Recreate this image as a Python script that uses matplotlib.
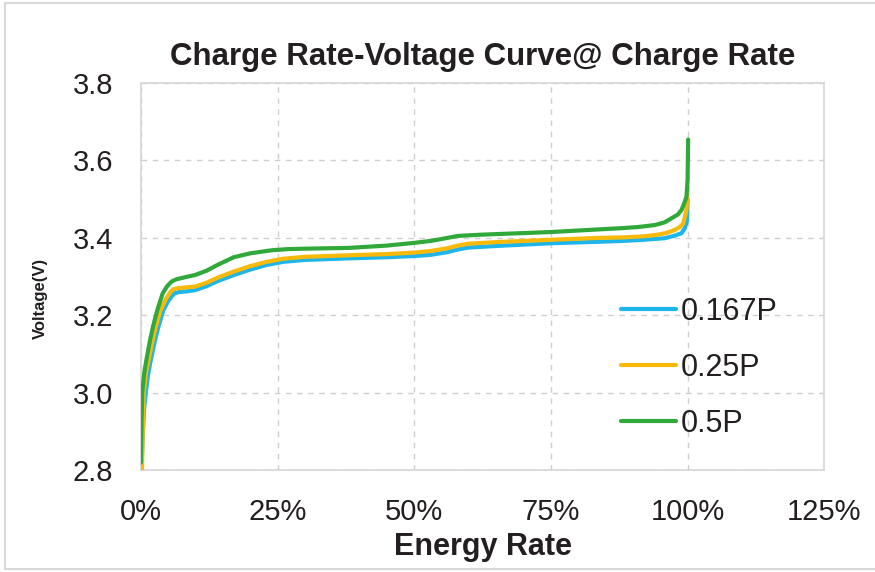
"""Charge rate voltage curves for three charge rates (0.167P, 0.25P, 0.5P)."""

import matplotlib

matplotlib.use("Agg")
import matplotlib.pyplot as plt
from matplotlib.lines import Line2D
from matplotlib.ticker import FuncFormatter

plt.rcParams["font.family"] = ["Liberation Sans", "DejaVu Sans"]

# energy rate (%) / voltage (V)
rate_0167_x = [0.1, 0.3, 0.6, 0.9, 1.3, 1.8, 2.5, 3.2, 4.1, 5.0, 5.7, 6.2, 7.0, 8.5, 9.9,
               12, 14, 17, 20, 23, 26, 30, 38, 45, 50, 53, 56, 58, 60, 65, 75, 84, 88,
               92, 95.8, 97.5, 98.9, 99.5, 99.9, 100]
rate_0167_v = [2.805, 2.88, 2.96, 3.00, 3.045, 3.084, 3.13, 3.17, 3.213, 3.237, 3.25, 3.257,
               3.26, 3.262, 3.265, 3.275, 3.288, 3.304, 3.318, 3.33, 3.338, 3.343, 3.347,
               3.35, 3.353, 3.356, 3.363, 3.37, 3.375, 3.379, 3.386, 3.39, 3.392, 3.395,
               3.399, 3.405, 3.412, 3.425, 3.445, 3.50]

rate_025_x = [0.2, 0.35, 0.55, 0.9, 1.4, 2.0, 2.7, 3.6, 4.5, 5.3, 5.9, 6.8, 8.3, 9.9,
              12, 14, 17, 20, 23, 26, 30, 38, 45, 50, 53, 56, 58, 60, 65, 75, 84, 88,
              92, 94, 96, 97.6, 98.6, 99.2, 99.8, 100]
rate_025_v = [2.80, 2.90, 3.00, 3.05, 3.084, 3.125, 3.17, 3.213, 3.24, 3.258, 3.267,
              3.27, 3.272, 3.274, 3.284, 3.297, 3.313, 3.327, 3.338, 3.346, 3.351, 3.355,
              3.358, 3.362, 3.366, 3.373, 3.38, 3.385, 3.389, 3.395, 3.40, 3.401, 3.404,
              3.407, 3.412, 3.42, 3.428, 3.437, 3.472, 3.53]

rate_05_x = [0, 0.1, 0.25, 0.6, 1.0, 1.6, 2.2, 3.0, 4.0, 4.8, 5.6, 6.5, 8.0, 9.9, 12,
             14, 17, 20, 24, 27, 30, 38, 45, 50, 53, 55, 58, 62, 75, 84, 88, 91, 94,
             95.8, 97, 98.2, 98.9, 99.4, 99.8, 100, 100.1]
rate_05_v = [2.82, 2.911, 3.00, 3.05, 3.084, 3.13, 3.17, 3.213, 3.257, 3.275, 3.287,
             3.293, 3.298, 3.304, 3.315, 3.33, 3.35, 3.36, 3.368, 3.371, 3.372, 3.374,
             3.38, 3.387, 3.392, 3.397, 3.405, 3.408, 3.415, 3.422, 3.425, 3.428, 3.433,
             3.44, 3.45, 3.46, 3.472, 3.49, 3.506, 3.549, 3.654]

series_labels = ["0.167P", "0.25P", "0.5P"]
series_colors = ["#1DB5EA", "#F7BA0B", "#31A83A"]

x_ticks = [0, 25, 50, 75, 100, 125]
y_ticks = [2.8, 3.0, 3.2, 3.4, 3.6, 3.8]

fig = plt.figure(figsize=(8.75, 5.72), dpi=100)
ax = fig.add_axes([0.161, 0.178, 0.781, 0.677])

series = [(rate_0167_x, rate_0167_v), (rate_025_x, rate_025_v), (rate_05_x, rate_05_v)]
for (xs, vs), label, color in zip(series, series_labels, series_colors):
    ax.plot(xs, vs, color=color, linewidth=3.0, label=label,
            solid_capstyle="round", solid_joinstyle="round", zorder=3)

ax.set_xlim(0, 125)
ax.set_ylim(2.8, 3.8)
ax.set_xticks(x_ticks)
ax.set_yticks(y_ticks)
ax.xaxis.set_major_formatter(FuncFormatter(lambda v, _: f"{v:.0f}%"))
ax.yaxis.set_major_formatter(FuncFormatter(lambda v, _: f"{v:.1f}"))
ax.tick_params(length=0, labelsize=21, colors="#231f20")
ax.tick_params(axis="x", pad=20)
ax.tick_params(axis="y", pad=20)
ax.grid(True, color="#cfcfcf", linestyle=(0, (4, 4)), linewidth=1.0)
for s in ax.spines.values():
    s.set_color("#d6d6d6")
    s.set_linewidth(1.2)

ax.set_title("Charge Rate-Voltage Curve@ Charge Rate", fontsize=22.5, fontweight="bold",
             color="#231f20", pad=13)
ax.set_xlabel("Energy Rate", fontsize=22, fontweight="bold", color="#231f20", labelpad=4)
fig.text(0.046, 0.478, "Voltage(V)", rotation=90, fontsize=12, fontweight="bold",
         color="#231f20", ha="center", va="center")

ax.legend(loc="upper left", bbox_to_anchor=(0.685, 0.479), frameon=False, fontsize=22,
          handlelength=1.8, handletextpad=0.15, labelspacing=0.85, borderaxespad=0,
          labelcolor="#231f20")

# thin gray frame around the picture
frame_kw = dict(color="#d9d9d9", linewidth=1.5, transform=fig.transFigure)
fig.add_artist(Line2D([0.006, 0.006], [0.005, 0.994], **frame_kw))
fig.add_artist(Line2D([0.006, 1.0], [0.994, 0.994], **frame_kw))
fig.add_artist(Line2D([0.006, 1.0], [0.005, 0.005], **frame_kw))

fig.savefig("out.png", dpi=100)
